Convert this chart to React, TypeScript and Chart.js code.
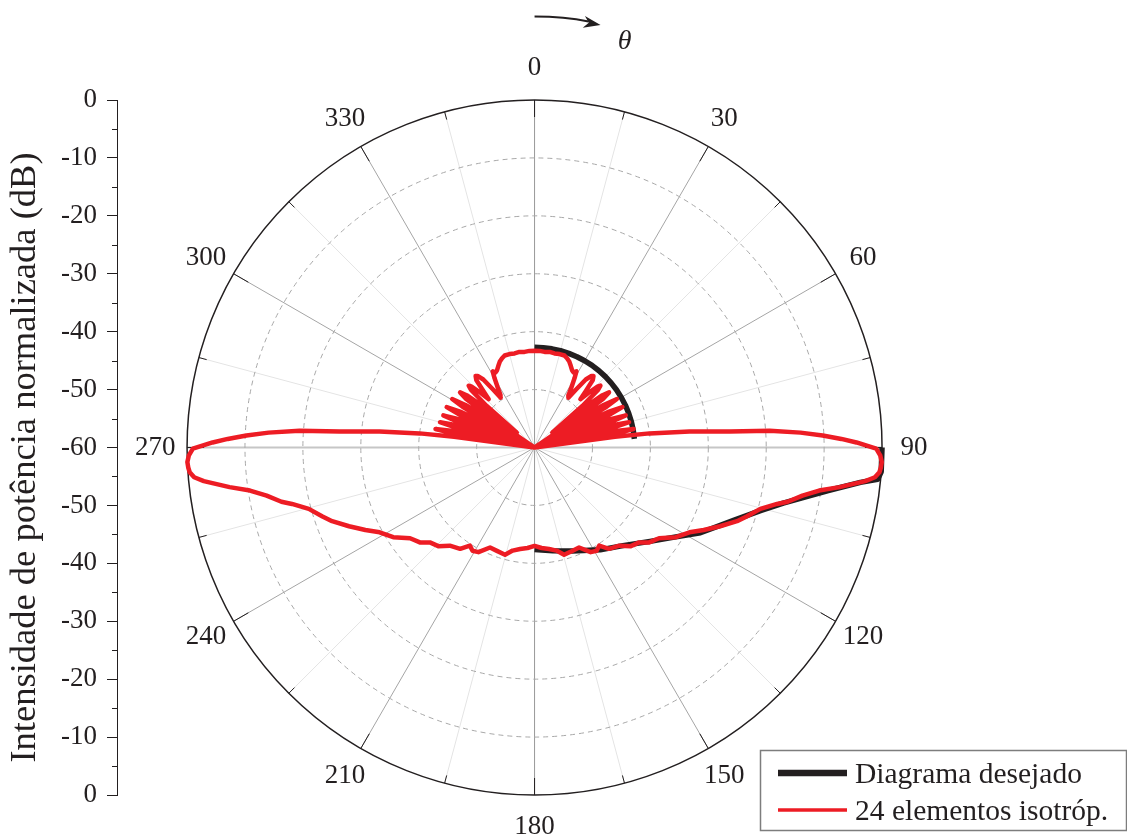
import React, { useEffect, useRef } from 'react';
import { Chart, registerables } from 'chart.js';

Chart.register(...registerables);

// Angles in degrees, clockwise from 0 at the top; power in dB, normalised to the beam peak.
// The array factor is symmetric about the 0-180 axis, so only 0..180 is listed.
const ARRAY_ANGLES = [
  0, 3, 6, 9, 12, 15, 18, 20, 22, 24, 26, 27.5, 28.8, 30, 31.5, 33, 34.2, 35.5, 37, 38.5,
  39.5, 40.8, 42.2, 43.5, 44.8, 46, 46.8, 47.8, 49, 50, 51.2, 52.4, 53.5, 54.6, 55.6, 56.5,
  57.4, 58.4, 59.5, 60.6, 61.6, 62.4, 63.2, 64.2, 65.3, 66.4, 67.3, 68, 68.7, 69.6, 70.6,
  71.5, 72.2, 72.8, 73.4, 74.1, 75, 75.9, 76.6, 77.2, 77.8, 78.5, 79.4, 80.2, 81, 81.7,
  82.4, 83, 84.1, 85.3, 85.9, 86.8, 87.6, 88.4, 89.1, 90.2, 91.3, 92.4, 93.3, 94.1, 95,
  95.8, 97.4, 98.6, 100.2, 102.1, 103.1, 105.2, 108, 110, 113, 116, 118.7, 122.4, 126.1,
  129.6, 132.2, 135.7, 139.2, 143.7, 146.6, 149, 151.8, 156, 160, 164.6, 168, 171.9, 176, 180,
];
const ARRAY_DB = [
  -43.3, -43.3, -43.4, -43.3, -43.4, -43.3, -43.3, -43.6, -44.0, -44.6, -45.2, -45.4, -45.0,
  -46.2, -47.8, -49.2, -49.6, -47.8, -45.3, -44.2,
  -44.0, -44.6, -46.8, -48.5, -46.5, -44.8, -44.4, -45.2, -49.0, -56.0, -49.0, -45.2, -44.0,
  -45.5, -51.0, -60,
  -51.0, -46.0, -43.5, -46.0, -51.0, -60, -51.0, -46.0, -43.3, -46.0, -51.0, -60, -51.0,
  -46.0, -43.3,
  -46.0, -51.0, -60, -51.0, -46.0, -43.1, -46.0, -51.0, -60, -51.0, -46.0, -42.6, -46.0,
  -51.0, -60,
  -46.0, -40.0, -33.1, -26.2, -19.3, -14.0, -10.2, -7.0, -4.4, -1.0, -0.3, 0, -0.1, -0.3, -1.0,
  -2.6, -6.9, -10.3, -13.0, -15.3, -17.0, -19.6, -21.5, -22.8, -25.2, -27.5, -29.5, -31.1, -33.4,
  -34.3, -35.6, -36.2, -37.6, -38.3, -39.7, -39.2, -39.5, -41.1, -41.0, -40.8, -41.8, -42.3,
  -42.6, -43.0,
];

// Desired (target) pattern, defined on 0..180 only; null marks the break before the beam.
const DESIRED_ANGLES = [
  0, 5, 10, 15, 20, 25, 30, 35, 40, 45, 50, 55, 60, 65, 70, 75, 80, 85, 87.5,
  90, 94, 95.3, 96.1, 98.4, 100.5, 102.6, 105.6, 110, 117.2, 123, 129.1, 138, 147.3, 160, 170, 180,
];
const DESIRED_DB: (number | null)[] = [
  -42.7, -42.7, -42.7, -42.7, -42.7, -42.7, -42.7, -42.7, -42.7, -42.7, -42.7, -42.7, -42.7,
  -42.7, -42.7, -42.7, -42.7, -42.7, null,
  0, 0, -0.5, -3.4, -8.9, -12.7, -16.0, -19.5, -23.3, -27.8, -31.5, -34.3, -37.2, -39.0, -41.0,
  -41.9, -42.4,
];

const SERIES_LABELS = ['Diagrama desejado', '24 elementos isotróp.'];
const ANGLE_TICKS = [0, 30, 60, 90, 120, 150, 180, 210, 240, 270, 300, 330];
const RING_LEVELS = [-50, -40, -30, -20, -10];
const DB_FLOOR = -60;
const Y_TITLE = 'Intensidade de potência normalizada (dB)';

const FONT = "'Liberation Serif', 'Times New Roman', Times, serif";
const INK = '#231f20';
const RED = '#ed1c24';

// radius (in dB above the floor) at which the angle labels sit
const LABEL_RADIUS = 65.5;

type Pt = { x: number | null; y: number | null };

function polarPoint(angleDeg: number, db: number | null): Pt {
  if (db === null) return { x: null, y: null };
  const r = Math.max(db, DB_FLOOR) - DB_FLOOR;
  const t = (angleDeg * Math.PI) / 180;
  return { x: r * Math.sin(t), y: r * Math.cos(t) };
}

// full 0..360 trace from the 0..180 half, reflected about the vertical axis
function symmetricTrace(angles: number[], values: number[]): Pt[] {
  const pts = angles.map((a, i) => polarPoint(a, values[i]));
  for (let i = angles.length - 2; i >= 0; i--) pts.push(polarPoint(360 - angles[i], values[i]));
  return pts;
}

const polarFrame = {
  id: 'polarFrame',
  beforeDatasetsDraw(chart: any) {
    const { ctx } = chart;
    const xs = chart.scales.x;
    const ys = chart.scales.y;
    const span = -DB_FLOOR;
    const cx = xs.getPixelForValue(0);
    const cy = ys.getPixelForValue(0);
    const unit = cy - ys.getPixelForValue(1);
    const at = (r: number, deg: number) => {
      const t = (deg * Math.PI) / 180;
      return [xs.getPixelForValue(r * Math.sin(t)), ys.getPixelForValue(r * Math.cos(t))];
    };
    ctx.save();
    // spokes every 15 degrees
    for (let a = 0; a < 360; a += 15) {
      let color = '#e4e4e4';
      let width = 1;
      if (a === 90 || a === 270) {
        color = '#c6c6c6';
        width = 2;
      } else if (a === 0 || a === 180) {
        color = '#999999';
      } else if (a % 30 === 0) {
        color = '#a5a5a5';
      }
      const [x, y] = at(span, a);
      ctx.strokeStyle = color;
      ctx.lineWidth = width;
      ctx.beginPath();
      ctx.moveTo(cx, cy);
      ctx.lineTo(x, y);
      ctx.stroke();
    }
    // dashed level rings
    ctx.strokeStyle = '#a8a8a8';
    ctx.lineWidth = 1;
    ctx.setLineDash([5, 4]);
    for (const lvl of RING_LEVELS) {
      ctx.beginPath();
      ctx.arc(cx, cy, (lvl - DB_FLOOR) * unit, 0, Math.PI * 2);
      ctx.stroke();
    }
    ctx.setLineDash([]);
    // outer ring (0 dB)
    ctx.strokeStyle = INK;
    ctx.lineWidth = 1.5;
    ctx.beginPath();
    ctx.arc(cx, cy, span * unit, 0, Math.PI * 2);
    ctx.stroke();
    // inward tick marks on the outer ring
    ctx.lineWidth = 1;
    for (let a = 0; a < 360; a += 15) {
      const len = (a % 30 === 0 ? 17 : 8) / unit;
      const [x0, y0] = at(span, a);
      const [x1, y1] = at(span - len, a);
      ctx.beginPath();
      ctx.moveTo(x0, y0);
      ctx.lineTo(x1, y1);
      ctx.stroke();
    }
    ctx.restore();
  },
  afterDraw(chart: any) {
    const { ctx, chartArea } = chart;
    const xs = chart.scales.x;
    const ys = chart.scales.y;
    const cx = xs.getPixelForValue(0);
    const at = (r: number, deg: number) => {
      const t = (deg * Math.PI) / 180;
      return [xs.getPixelForValue(r * Math.sin(t)), ys.getPixelForValue(r * Math.cos(t))];
    };
    ctx.save();
    // minor ticks on the dB axis
    ctx.strokeStyle = INK;
    ctx.lineWidth = 1;
    for (let v = -55; v <= 55; v += 10) {
      const y = Math.round(ys.getPixelForValue(v)) + 0.5;
      ctx.beginPath();
      ctx.moveTo(chartArea.left - 5, y);
      ctx.lineTo(chartArea.left, y);
      ctx.stroke();
    }
    // dB axis title, rotated
    ctx.save();
    ctx.translate(25.5, 457.5);
    ctx.rotate(-Math.PI / 2);
    ctx.fillStyle = INK;
    ctx.font = `36.5px ${FONT}`;
    ctx.textAlign = 'center';
    ctx.textBaseline = 'middle';
    ctx.fillText(Y_TITLE, 0, 0);
    ctx.restore();
    // angle labels
    ctx.fillStyle = INK;
    ctx.font = `27px ${FONT}`;
    ctx.textAlign = 'center';
    ctx.textBaseline = 'middle';
    for (const a of ANGLE_TICKS) {
      const [x, y] = at(LABEL_RADIUS, a);
      ctx.fillText(String(a), x, y);
    }
    // direction of increasing theta
    ctx.strokeStyle = INK;
    ctx.lineWidth = 2;
    ctx.beginPath();
    ctx.moveTo(cx, 16.5);
    ctx.quadraticCurveTo(cx + 30, 16.5, cx + 54, 21.5);
    ctx.stroke();
    const tipX = cx + 66;
    const tipY = 25;
    const dir = (10.5 * Math.PI) / 180;
    const rot = (px: number, py: number) => [
      tipX + px * Math.cos(dir) - py * Math.sin(dir),
      tipY + px * Math.sin(dir) + py * Math.cos(dir),
    ];
    const head = [rot(0, 0), rot(-17, -6), rot(-12, 0), rot(-17, 6)];
    ctx.fillStyle = INK;
    ctx.beginPath();
    ctx.moveTo(head[0][0], head[0][1]);
    for (let i = 1; i < head.length; i++) ctx.lineTo(head[i][0], head[i][1]);
    ctx.closePath();
    ctx.fill();
    ctx.font = `italic 28px ${FONT}`;
    ctx.fillText('θ', cx + 90, 42);

    // legend
    const boxX = 760.5;
    const boxY = 750.5;
    ctx.strokeStyle = '#7d7d7d';
    ctx.lineWidth = 1.5;
    ctx.strokeRect(boxX, boxY, 366, 80);
    const rows = [773, 810];
    const sampleWidths = [6.5, 3.5];
    ctx.font = `29.5px ${FONT}`;
    ctx.textAlign = 'left';
    ctx.textBaseline = 'alphabetic';
    chart.data.datasets.forEach((ds: any, i: number) => {
      const y = rows[i];
      ctx.strokeStyle = ds.borderColor;
      ctx.lineWidth = sampleWidths[i];
      ctx.beginPath();
      ctx.moveTo(778, y);
      ctx.lineTo(847, y);
      ctx.stroke();
      ctx.fillStyle = INK;
      ctx.fillText(ds.label, 855, y + 10);
    });
    ctx.restore();
  },
};

export default function App() {
  const ref = useRef<HTMLCanvasElement | null>(null);

  useEffect(() => {
    if (!ref.current) return;
    const chart = new Chart(ref.current, {
      type: 'scatter',
      data: {
        datasets: [
          {
            label: SERIES_LABELS[0],
            data: DESIRED_ANGLES.map((a, i) => polarPoint(a, DESIRED_DB[i])) as any,
            showLine: true,
            borderColor: INK,
            borderWidth: 5.5,
            pointRadius: 0,
            pointHoverRadius: 0,
            spanGaps: false,
            borderJoinStyle: 'round',
            borderCapStyle: 'butt',
            order: 1,
          },
          {
            label: SERIES_LABELS[1],
            data: symmetricTrace(ARRAY_ANGLES, ARRAY_DB) as any,
            showLine: true,
            borderColor: RED,
            borderWidth: 4.5,
            pointRadius: 0,
            pointHoverRadius: 0,
            borderJoinStyle: 'round',
            borderCapStyle: 'round',
            order: 0,
          },
        ],
      },
      options: {
        animation: false,
        responsive: false,
        devicePixelRatio: 1,
        events: [],
        layout: { padding: { top: 100, bottom: 43, left: 0, right: 0 } },
        plugins: { legend: { display: false }, tooltip: { enabled: false } },
        scales: {
          x: { type: 'linear', display: false, min: -72.1, max: 102.3 },
          y: {
            type: 'linear',
            position: 'left',
            min: -60,
            max: 60,
            afterFit: (scale: any) => {
              scale.width = 117;
            },
            ticks: {
              stepSize: 5,
              autoSkip: false,
              padding: 10,
              color: INK,
              font: { family: FONT, size: 27 },
              callback: (v: any) => (Number(v) % 10 === 0 ? String(Math.abs(Number(v)) + DB_FLOOR) : ''),
            },
            grid: {
              drawOnChartArea: false,
              drawTicks: true,
              tickLength: 10,
              tickWidth: 1,
              tickColor: (c: any) => (c.tick && c.tick.value % 10 === 0 ? INK : 'rgba(0,0,0,0)'),
            },
            border: { display: true, color: INK, width: 1 },
            title: { display: false },
          },
        },
      },
      plugins: [polarFrame],
    } as any);
    return () => chart.destroy();
  }, []);

  return (
    <div style={{ position: 'absolute', left: 0, top: 0, width: 1127, height: 838, background: '#ffffff' }}>
      <canvas ref={ref} width={1127} height={838} style={{ display: 'block', width: 1127, height: 838 }} />
    </div>
  );
}
